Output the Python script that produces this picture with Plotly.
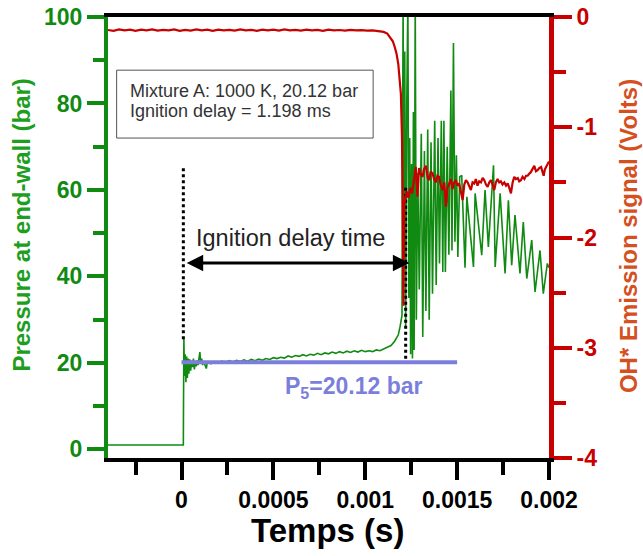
import plotly.graph_objects as go

# ---------------- data ----------------
# pressure trace (s, bar)
p_time = [-0.0004, -0.0002, 0.0, 0.00001, 0.000011, 0.000013, 0.000016, 0.00002, 0.000024, 0.000028,
          0.000032, 0.000036, 0.00004, 0.000045, 0.00005, 0.000055, 0.00006, 0.000065, 0.00007, 0.000075,
          0.00008, 0.000085, 0.00009, 0.000095, 0.0001, 0.000105, 0.00011, 0.000115, 0.00012, 0.00013,
          0.000135, 0.00014, 0.00015, 0.00016, 0.00018, 0.0002, 0.00022, 0.00024, 0.00026, 0.00028,
          0.0003, 0.00032, 0.00034, 0.00036, 0.00038, 0.0004, 0.00042, 0.00044, 0.00046, 0.00048,
          0.0005, 0.00052, 0.00054, 0.00056, 0.00058, 0.0006, 0.00062, 0.00064, 0.00066, 0.00068,
          0.0007, 0.00072, 0.00074, 0.00076, 0.00078, 0.0008, 0.00082, 0.00084, 0.00086, 0.00088,
          0.0009, 0.00092, 0.00094, 0.00096, 0.00098, 0.001, 0.00102, 0.00104, 0.00106, 0.00108,
          0.0011, 0.00112, 0.00114, 0.00116, 0.00118, 0.00119, 0.0012,
          0.001206, 0.00121, 0.001215, 0.00122, 0.001226, 0.001232, 0.001237, 0.001242, 0.001247, 0.001252,
          0.001257, 0.001262, 0.001266, 0.001272, 0.001278, 0.001286, 0.001294, 0.001305, 0.001313, 0.001322,
          0.00133, 0.00134, 0.001348, 0.001358, 0.001366, 0.001378, 0.001386, 0.001396, 0.001404, 0.001414,
          0.001422, 0.001428, 0.001436, 0.001446, 0.001455, 0.001466, 0.001472, 0.00148, 0.001488, 0.001496,
          0.001504, 0.001514, 0.001525, 0.001543, 0.001553, 0.001589, 0.001598, 0.001634, 0.001652, 0.00167,
          0.001698, 0.001707, 0.001734, 0.001761, 0.001779, 0.001797, 0.001815, 0.001842, 0.00186, 0.001879,
          0.001906, 0.001924, 0.001951, 0.001969, 0.001991, 0.002]
p_bar = [1.0, 1.0, 1.0, 1.0, 11, 25.5, 17, 22, 15.5, 21.5,
         16.5, 21, 17.5, 20.8, 18.2, 20.5, 19, 21, 18.5, 20.2,
         19.2, 20.6, 19.5, 21.2, 22.5, 19.8, 21, 19.5, 20.4, 19.3,
         18.7, 20, 20.2, 19.8, 20.3, 20.0, 20.4, 20.1, 20.5, 20.2,
         20.6, 20.3, 20.7, 20.4, 20.8, 20.5, 20.9, 20.6, 21.0, 20.8,
         21.2, 21.0, 21.3, 21.1, 21.6, 21.3, 21.7, 21.5, 21.9, 21.6,
         22.0, 21.8, 22.2, 21.9, 22.3, 22.1, 22.5, 22.2, 22.6, 22.3,
         22.7, 22.4, 22.8, 22.5, 22.9, 22.6, 22.8, 22.6, 23.0, 22.8,
         23.2, 23.6, 24.0, 25.0, 26.5, 28.5, 31,
         104, 45, 92, 28, 80, 104, 35, 72, 22, 66,
         21, 78, 23, 104, 30, 64, 37, 73, 26, 69,
         32, 74, 30, 71, 36, 76, 38, 72, 43, 76,
         41, 76, 41, 70, 45, 83, 46, 94, 48, 68,
         44.5, 63, 63.4, 42, 58.4, 42.2, 59.2, 44.9, 60, 46.8,
         65.7, 42.2, 59.2, 40.7, 57.6, 42.6, 54.2, 40.7, 52.6, 39.5,
         48.4, 36.4, 46, 36, 43, 42]

# OH* emission trace (s, Volts)
oh_time = [-0.0004, -0.00037, -0.00034, -0.00031, -0.00028, -0.00025, -0.00022, -0.00019, -0.00016, -0.00013,
           -0.0001, -0.00007, -0.00004, -0.00001, 0.00002, 0.00005, 0.00008, 0.00011, 0.00014, 0.00017,
           0.0002, 0.00023, 0.00026, 0.00029, 0.00032, 0.00035, 0.00038, 0.00041, 0.00044, 0.00047,
           0.0005, 0.00053, 0.00056, 0.00059, 0.00062, 0.00065, 0.00068, 0.00071, 0.00074, 0.00077,
           0.0008, 0.00083, 0.00086, 0.00089, 0.00092, 0.00095, 0.00098, 0.00101, 0.00104, 0.00107,
           0.0011, 0.00112, 0.00114, 0.00115, 0.00116, 0.00117, 0.00118, 0.001188, 0.001194, 0.0012,
           0.001203, 0.001206, 0.001208, 0.001212, 0.001218, 0.001225, 0.001235, 0.001245, 0.001255, 0.001265,
           0.001275, 0.001284, 0.001293, 0.0013, 0.001312, 0.00132, 0.00133, 0.00134, 0.001348, 0.001356,
           0.001366, 0.001375, 0.001384, 0.001393, 0.001402, 0.00141, 0.001421, 0.00143, 0.001439, 0.001448,
           0.001457, 0.001466, 0.001475, 0.001484, 0.001493, 0.001502, 0.001511, 0.00152, 0.00153, 0.001539,
           0.001548, 0.001557, 0.001566, 0.001575, 0.001584, 0.001593, 0.001602, 0.001611, 0.00162, 0.00163,
           0.001639, 0.001648, 0.001657, 0.001666, 0.001675, 0.001684, 0.001693, 0.001702, 0.001711, 0.00172,
           0.001729, 0.001738, 0.001747, 0.001757, 0.001766, 0.001775, 0.001784, 0.001793, 0.001802, 0.001811,
           0.00182, 0.00183, 0.001838, 0.001847, 0.001856, 0.001866, 0.001875, 0.001884, 0.001893, 0.0019,
           0.00191, 0.00192, 0.001929, 0.001938, 0.001947, 0.001957, 0.001964, 0.001971, 0.001978, 0.001984,
           0.00199, 0.001996, 0.002]
oh_volt = [-0.118, -0.125, -0.112, -0.122, -0.115, -0.126, -0.114, -0.121, -0.113, -0.124,
           -0.116, -0.122, -0.112, -0.125, -0.117, -0.123, -0.113, -0.121, -0.115, -0.125,
           -0.114, -0.122, -0.116, -0.124, -0.113, -0.121, -0.117, -0.125, -0.114, -0.122,
           -0.115, -0.124, -0.113, -0.121, -0.116, -0.123, -0.114, -0.122, -0.117, -0.125,
           -0.115, -0.121, -0.118, -0.124, -0.116, -0.122, -0.119, -0.124, -0.121, -0.127,
           -0.135, -0.15, -0.19, -0.22, -0.27, -0.33, -0.43, -0.55, -0.7, -1.1,
           -1.65, -1.6, -2.62, -1.7, -1.62, -1.58, -1.64, -1.55, -1.6, -1.45,
           -1.36, -1.63, -1.37, -1.42, -1.45, -1.38, -1.35, -1.46, -1.48, -1.4,
           -1.42, -1.47, -1.5, -1.44, -1.45, -1.52, -1.57, -1.5, -1.72, -1.55,
           -1.51, -1.47, -1.56, -1.5, -1.48, -1.53, -1.51, -1.58, -1.66, -1.52,
           -1.48, -1.5, -1.54, -1.57, -1.5, -1.51, -1.47, -1.53, -1.49, -1.5,
           -1.46, -1.48, -1.52, -1.54, -1.5, -1.48, -1.52, -1.57, -1.5, -1.47,
           -1.5, -1.49, -1.52, -1.5, -1.53, -1.51, -1.55, -1.6, -1.5, -1.45,
           -1.47, -1.46, -1.49, -1.48, -1.45, -1.47, -1.44, -1.44, -1.42, -1.41,
           -1.38, -1.35, -1.4, -1.39, -1.37, -1.36, -1.4, -1.44, -1.38, -1.36,
           -1.34, -1.32, -1.31]

# P5 reference line
p5_time = [0.0, 0.0015]
p5_bar = [20.12, 20.12]

# ignition-delay markers (start / end), dotted line extents
delay_start = [0.00001, 0.00001]
delay_start_p = [65, 25]
delay_end = [0.00122, 0.00122]
delay_end_p = [60.5, 20.5]

x_ticks = [0, 0.0005, 0.001, 0.0015, 0.002]
x_labels = ["0", "0.0005", "0.001", "0.0015", "0.002"]
y_ticks = [0, 20, 40, 60, 80, 100]
y2_ticks = [-4, -3, -2, -1, 0]
y2_labels = ["-4", "-3", "-2", "-1", "0"]

# ---------------- styling ----------------
GREEN = "#108a10"
GREEN_T = "#1e9e1e"
RED = "#c80000"
RED_T = "#d4501e"
BLUE = "#7b7fdb"
FONT = "Liberation Sans, Arial, sans-serif"

fig = go.Figure()

fig.add_trace(go.Scatter(x=oh_time, y=oh_volt, mode="lines", yaxis="y2",
                         line=dict(color=RED, width=2.2), hoverinfo="skip"))
fig.add_trace(go.Scatter(x=p_time, y=p_bar, mode="lines",
                         line=dict(color=GREEN, width=1.6), hoverinfo="skip"))
fig.add_trace(go.Scatter(x=p5_time, y=p5_bar, mode="lines",
                         line=dict(color=BLUE, width=4), hoverinfo="skip"))
fig.add_trace(go.Scatter(x=delay_start, y=delay_start_p, mode="lines",
                         line=dict(color="black", width=3, dash="dot"), hoverinfo="skip"))
fig.add_trace(go.Scatter(x=delay_end, y=delay_end_p, mode="lines",
                         line=dict(color="black", width=3, dash="dot"), hoverinfo="skip"))

annotations = [
    # double-headed arrow
    dict(x=0.00124, y=43.1, ax=0.00002, ay=43.1, xref="x", yref="y", axref="x", ayref="y",
         text="", showarrow=True, arrowhead=2, startarrowhead=2, arrowside="end+start",
         arrowsize=1.1, startarrowsize=1.1, arrowwidth=3, arrowcolor="black"),
    dict(x=0.000592, y=48.9, xref="x", yref="y", text="Ignition delay time", showarrow=False,
         xanchor="center", yanchor="middle", font=dict(family=FONT, size=23.5, color="#222222")),
    dict(x=-0.000293, y=83.0, xref="x", yref="y", text="Mixture A: 1000 K, 20.12 bar", showarrow=False,
         xanchor="left", yanchor="middle", font=dict(family=FONT, size=18, color="#333333")),
    dict(x=-0.000293, y=78.3, xref="x", yref="y", text="Ignition delay = 1.198 ms", showarrow=False,
         xanchor="left", yanchor="middle", font=dict(family=FONT, size=18, color="#333333")),
    dict(x=0.00094, y=14.2, xref="x", yref="y", text="P<sub>5</sub>=20.12 bar", showarrow=False,
         xanchor="center", yanchor="middle", font=dict(family=FONT, size=23, color=BLUE, weight="bold")),
    dict(x=0.497, y=-0.1655, xref="paper", yref="paper", text="Temps (s)", showarrow=False,
         xanchor="center", yanchor="middle", font=dict(family=FONT, size=33, color="black", weight="bold")),
    dict(x=-0.195, y=0.527, xref="paper", yref="paper", text="Pressure at end-wall (bar)", showarrow=False,
         textangle=-90, xanchor="center", yanchor="middle",
         font=dict(family=FONT, size=24, color=GREEN_T, weight="bold")),
    dict(x=1.179, y=0.503, xref="paper", yref="paper", text="OH* Emission signal (Volts)", showarrow=False,
         textangle=-90, xanchor="center", yanchor="middle",
         font=dict(family=FONT, size=24, color=RED_T, weight="bold")),
]

shapes = [
    dict(type="rect", xref="x", yref="y", x0=-0.000353, x1=0.001043, y0=72.0, y1=87.7,
         line=dict(color="#555555", width=1), fillcolor="rgba(0,0,0,0)", layer="above"),
]

# plot area at x 108..549, y 17..458 of the 643x556 window
fig.update_layout(
    width=643, height=556, autosize=False,
    margin=dict(l=108, r=94, t=17, b=98, autoexpand=False),
    paper_bgcolor="white", plot_bgcolor="white",
    showlegend=False,
    annotations=annotations, shapes=shapes,
    xaxis=dict(range=[-0.0004, 0.002], tickvals=x_ticks, ticktext=x_labels, automargin=False,
               ticklabeloverflow="allow",
               showline=True, linecolor="black", linewidth=4, mirror=True,
               ticks="outside", ticklen=18, tickwidth=4, tickcolor="black",
               tickfont=dict(family=FONT, size=23, color="black", weight="bold"),
               showgrid=False, zeroline=False,
               minor=dict(dtick=0.00025, tick0=0, ticks="outside", ticklen=13, tickwidth=4,
                          tickcolor="black", showgrid=False)),
    yaxis=dict(range=[-2, 100], tickvals=y_ticks, automargin=False, ticklabeloverflow="allow",
               showline=True, linecolor=GREEN, linewidth=4,
               ticks="outside", ticklen=17, tickwidth=4, tickcolor=GREEN,
               tickfont=dict(family=FONT, size=23, color=GREEN, weight="bold"),
               showgrid=False, zeroline=False,
               minor=dict(dtick=10, tick0=0, ticks="outside", ticklen=11, tickwidth=4,
                          tickcolor=GREEN, showgrid=False)),
    yaxis2=dict(range=[-4, 0], tickvals=y2_ticks, ticktext=y2_labels, overlaying="y", side="right",
                automargin=False, ticklabeloverflow="allow",
                showline=True, linecolor=RED, linewidth=5,
                ticks="outside", ticklen=18, tickwidth=4, tickcolor=RED,
                tickfont=dict(family=FONT, size=23, color=RED, weight="bold"),
                showgrid=False, zeroline=False,
                minor=dict(dtick=0.5, tick0=0, ticks="outside", ticklen=12, tickwidth=4,
                           tickcolor=RED, showgrid=False)),
)

# remove the browser's default 8px body margin so the figure sits at the window origin
fig.write_html("out.html", config={"displayModeBar": False},
               post_script="document.body.style.margin='0';document.body.style.overflow='hidden';")
